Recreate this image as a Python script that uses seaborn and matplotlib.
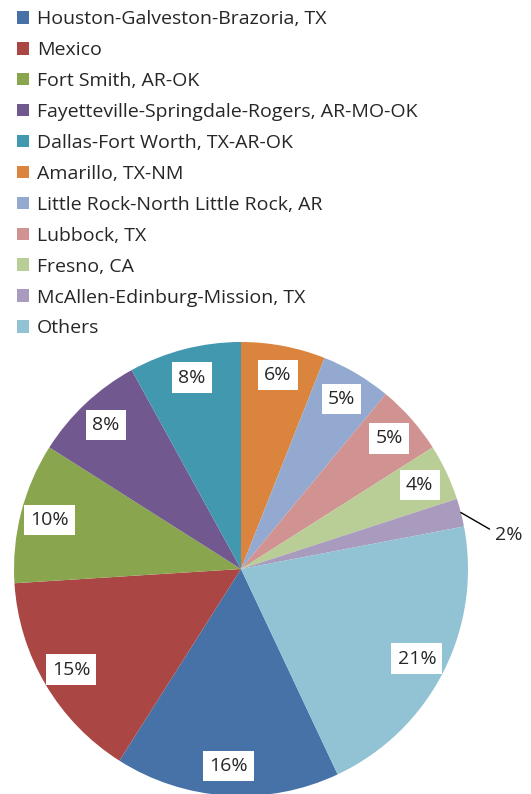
import numpy as np
import matplotlib
matplotlib.use("Agg")
import matplotlib.pyplot as plt
import seaborn as sns

# metro areas and their share (%)
areas = ["Houston-Galveston-Brazoria, TX", "Mexico", "Fort Smith, AR-OK",
         "Fayetteville-Springdale-Rogers, AR-MO-OK", "Dallas-Fort Worth, TX-AR-OK",
         "Amarillo, TX-NM", "Little Rock-North Little Rock, AR", "Lubbock, TX",
         "Fresno, CA", "McAllen-Edinburg-Mission, TX", "Others"]
shares = [16, 15, 10, 8, 8, 6, 5, 5, 4, 2, 21]
colors = ["#4672A8", "#AA4643", "#89A54E", "#71588F", "#4198AF", "#DB843D",
          "#93A9CF", "#D19392", "#B9CD96", "#A99BBD", "#92C3D4"]

sns.set_style("white")
plt.rcParams["font.family"] = ["Open Sans", "DejaVu Sans"]

fig = plt.figure(figsize=(5.31, 7.94), dpi=100)
ax = fig.add_axes([14 / 531, -2 / 794, 454 / 531, 454 / 794])

# Houston starts where "Others" ends, Amarillo sits at 12 o'clock
start = 90 - 360 * sum(shares[5:]) / sum(shares)
wedges, _ = ax.pie(shares, colors=colors, startangle=start, counterclock=False,
                   radius=1, wedgeprops=dict(linewidth=0))
ax.set_xlim(-1, 1)
ax.set_ylim(-1, 1)
ax.set_aspect("equal")
ax.axis("off")

box = dict(facecolor="white", edgecolor="none", pad=4.5)
for w, v in zip(wedges, shares):
    ang = np.deg2rad((w.theta1 + w.theta2) / 2)
    if v >= 3:
        ax.text(0.87 * np.cos(ang), 0.87 * np.sin(ang), f"{v}%", ha="center",
                va="center", fontsize=14, bbox=box)
    else:
        ax.annotate(f"{v}%", xy=(np.cos(ang), np.sin(ang)),
                    xytext=(1.12, np.sin(ang) - 0.1), ha="left", va="center",
                    fontsize=14, annotation_clip=False,
                    arrowprops=dict(arrowstyle="-", color="black", lw=1,
                                    shrinkA=2, shrinkB=0, relpos=(0, 0.7),
                                    connectionstyle="angle,angleA=180,angleB=150,rad=0"))

fig.legend(wedges, areas, loc="upper left", bbox_to_anchor=(0.0, 1.008),
           frameon=False, fontsize=14, handlelength=0.62, handleheight=0.62,
           handletextpad=0.42, labelspacing=0.665, borderaxespad=0.45)

fig.savefig("out.png", dpi=100)
